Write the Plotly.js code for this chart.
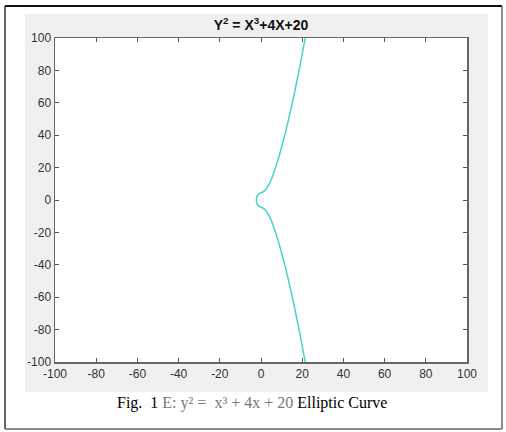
<!DOCTYPE html>
<html>
<head>
<meta charset="utf-8">
<script src="https://cdn.plot.ly/plotly-3.0.1.min.js"></script>
<style>html,body{margin:0;padding:0;background:#fff;}#chart{width:506px;height:432px;}</style>
</head>
<body>
<div id="chart"></div>
<script>
// Curve points (lower branch, then upper branch)
const curveX = [21.45, 20, 18, 16, 14, 12, 10, 8, 6, 5, 4, 3, 2, 1, 0, -1, -1.5, -2, -2.23,
                -2, -1.5, -1, 0, 1, 2, 3, 4, 5, 6, 8, 10, 12, 14, 16, 18, 20, 21.45];
const curveY = [-100, -90, -76.97, -64.65, -53.1, -42.38, -32.56, -23.75, -16.12, -12.85, -10, -7.68, -6, -5, -4.47, -3.87, -3.26, -2, 0,
                2, 3.26, 3.87, 4.47, 5, 6, 7.68, 10, 12.85, 16.12, 23.75, 32.56, 42.38, 53.1, 64.65, 76.97, 90, 100];
const tickVals = [-100, -80, -60, -40, -20, 0, 20, 40, 60, 80, 100];
const tickText = ['-100', '-80', '-60', '-40', '-20', '0', '20', '40', '60', '80', '100'];
const titleText = '<b>Y<sup>2</sup> = X<sup>3</sup>+4X+20</b>';
const captionText = 'Fig.  1 <span style="color:#777">E: y² =  x³ + 4x + 20</span> Elliptic Curve';

const W = 506, H = 432, L = 55, R = 467, T = 38, B = 362;
const px = v => (v - L) / (R - L);
const py = v => (B - v) / (B - T);

const axisCommon = {
  range: [-100, 100],
  tickvals: tickVals,
  ticktext: tickText,
  ticks: 'inside',
  ticklen: 4,
  tickwidth: 1,
  tickcolor: '#555',
  showline: true,
  linecolor: '#666',
  linewidth: 1.5,
  mirror: 'ticks',
  showgrid: false,
  zeroline: false,
  tickfont: {family: 'Liberation Sans, Arial, sans-serif', size: 12, color: '#333'},
  fixedrange: true
};

const layout = {
  width: W, height: H,
  margin: {l: L, r: W - R, t: T, b: H - B, pad: 0},
  paper_bgcolor: '#ffffff',
  plot_bgcolor: 'rgba(0,0,0,0)',
  showlegend: false,
  title: {
    text: titleText,
    font: {family: 'Liberation Sans, Arial, sans-serif', size: 14, color: '#111'},
    x: 0.5, xref: 'paper', xanchor: 'center',
    y: 1 - 25 / H, yref: 'container', yanchor: 'middle'
  },
  xaxis: Object.assign({}, axisCommon),
  yaxis: Object.assign({}, axisCommon),
  shapes: [
    {type: 'rect', xref: 'paper', yref: 'paper', x0: px(25), x1: px(488), y0: py(392), y1: py(14),
     fillcolor: '#f0f0f0', line: {width: 0}, layer: 'below'},
    {type: 'rect', xref: 'paper', yref: 'paper', x0: 0, x1: 1, y0: 0, y1: 1,
     fillcolor: '#ffffff', line: {width: 0}, layer: 'below'},
    {type: 'line', xref: 'paper', yref: 'paper', x0: px(5), x1: px(502), y0: py(6), y1: py(6),
     line: {color: '#111', width: 2}},
    {type: 'line', xref: 'paper', yref: 'paper', x0: px(5), x1: px(5), y0: py(6), y1: py(429),
     line: {color: '#333', width: 1.5}},
    {type: 'line', xref: 'paper', yref: 'paper', x0: px(502), x1: px(502), y0: py(6), y1: py(429),
     line: {color: '#666', width: 1.5}},
    {type: 'line', xref: 'paper', yref: 'paper', x0: px(5), x1: px(502), y0: py(429), y1: py(429),
     line: {color: '#666', width: 1.5}}
  ],
  annotations: [
    {text: captionText, xref: 'paper', yref: 'paper', x: px(252), y: py(403),
     xanchor: 'center', yanchor: 'middle', showarrow: false,
     font: {family: 'Liberation Serif, Times New Roman, serif', size: 16, color: '#000'}}
  ]
};

const traces = [{
  type: 'scatter', mode: 'lines',
  x: curveX, y: curveY,
  line: {color: '#48d4c6', width: 1.5, shape: 'spline', smoothing: 0.6},
  hoverinfo: 'skip'
}];

Plotly.newPlot('chart', traces, layout, {staticPlot: true, displayModeBar: false});
</script>
</body>
</html>
